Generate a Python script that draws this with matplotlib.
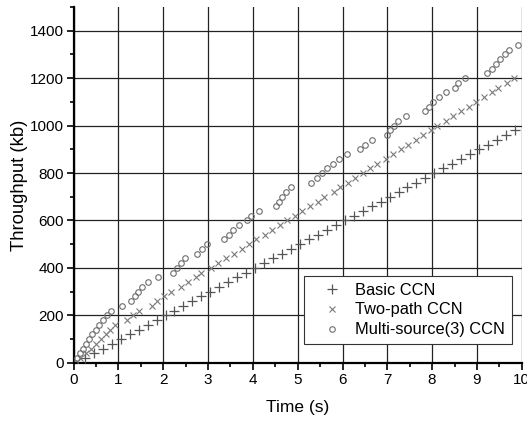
import matplotlib.pyplot as plt
from matplotlib.ticker import MultipleLocator

plt.rcParams['font.family'] = ['Liberation Sans', 'DejaVu Sans']

# Basic CCN (time s, throughput kb)
basic_t = [0.25, 0.45, 0.65, 0.85, 1.05, 1.25, 1.45, 1.65, 1.85, 2.05,
           2.25, 2.45, 2.65, 2.85, 3.05, 3.25, 3.45, 3.65, 3.85, 4.05,
           4.25, 4.45, 4.65, 4.85, 5.05, 5.25, 5.45, 5.65, 5.85, 6.05,
           6.25, 6.45, 6.65, 6.85, 7.05, 7.25, 7.45, 7.65, 7.85, 8.05,
           8.25, 8.45, 8.65, 8.85, 9.05, 9.25, 9.45, 9.65, 9.85]
basic_v = [20, 40, 60, 80, 100, 120, 140, 160, 180, 200,
           220, 240, 260, 280, 300, 320, 340, 360, 380, 400,
           420, 440, 460, 480, 500, 520, 540, 560, 580, 600,
           620, 640, 660, 680, 700, 720, 740, 760, 780, 800,
           820, 840, 860, 880, 900, 920, 940, 960, 980]

# Two-path CCN
two_t = [0.14, 0.27, 0.38, 0.50, 0.61, 0.72, 0.80, 0.92, 1.20, 1.33,
         1.46, 1.74, 1.87, 2.02, 2.18, 2.39, 2.56, 2.73, 2.84, 3.06,
         3.23, 3.41, 3.58, 3.75, 3.92, 4.08, 4.27, 4.42, 4.60, 4.77,
         4.94, 5.10, 5.27, 5.45, 5.59, 5.80, 5.94, 6.12, 6.28, 6.45,
         6.61, 6.78, 6.97, 7.13, 7.31, 7.47, 7.64, 7.80, 7.97, 8.12,
         8.31, 8.47, 8.65, 8.82, 8.98, 9.16, 9.33, 9.48, 9.67, 9.83]
two_v = [20, 40, 60, 80, 100, 120, 140, 160, 180, 200,
         220, 240, 260, 280, 300, 320, 340, 360, 380, 400,
         420, 440, 460, 480, 500, 520, 540, 560, 580, 600,
         620, 640, 660, 680, 700, 720, 740, 760, 780, 800,
         820, 840, 860, 880, 900, 920, 940, 960, 980, 1000,
         1020, 1040, 1060, 1080, 1100, 1120, 1140, 1160, 1180, 1200]

# Multi-source(3) CCN
multi_t = [0.04, 0.08, 0.14, 0.20, 0.27, 0.34, 0.41, 0.49, 0.57, 0.65,
           0.74, 0.84, 1.08, 1.27, 1.37, 1.44, 1.52, 1.67, 1.89, 2.22,
           2.30, 2.40, 2.49, 2.76, 2.87, 2.98, 3.36, 3.47, 3.56, 3.68,
           3.86, 3.96, 4.14, 4.52, 4.59, 4.66, 4.73, 4.86, 5.30, 5.44,
           5.54, 5.65, 5.79, 5.93, 6.09, 6.38, 6.50, 6.65, 6.99, 7.07,
           7.15, 7.23, 7.42, 7.84, 7.94, 8.03, 8.15, 8.31, 8.50, 8.58,
           8.73, 9.23, 9.33, 9.43, 9.52, 9.62, 9.72, 9.92]
multi_v = [0, 20, 40, 60, 80, 100, 120, 140, 160, 180,
           200, 220, 240, 260, 280, 300, 320, 340, 360, 380,
           400, 420, 440, 460, 480, 500, 520, 540, 560, 580,
           600, 620, 640, 660, 680, 700, 720, 740, 760, 780,
           800, 820, 840, 860, 880, 900, 920, 940, 960, 980,
           1000, 1020, 1040, 1060, 1080, 1100, 1120, 1140, 1160, 1180,
           1200, 1220, 1240, 1260, 1280, 1300, 1320, 1340]

fig = plt.figure(figsize=(5.27, 4.22), dpi=100)
ax = fig.add_axes([0.1398, 0.1403, 0.8502, 0.8431])

ax.plot(basic_t, basic_v, linestyle='none', marker='+', markersize=7.5,
        markeredgewidth=0.9, color='#555555', label='Basic CCN', zorder=3)
ax.plot(two_t, two_v, linestyle='none', marker='x', markersize=4.5,
        markeredgewidth=0.8, color='#7a7a7a', label='Two-path CCN', zorder=3)
ax.plot(multi_t, multi_v, linestyle='none', marker='o', markersize=4,
        markerfacecolor='none', markeredgewidth=0.8, color='#6e6e6e',
        label='Multi-source(3) CCN', zorder=3)

ax.set_xlim(0, 10)
ax.set_ylim(0, 1500)
ax.set_xticks(range(0, 11))
ax.set_yticks(range(0, 1401, 200))
ax.xaxis.set_minor_locator(MultipleLocator(0.5))
ax.yaxis.set_minor_locator(MultipleLocator(100))
ax.grid(True, which='major', color='#222222', linewidth=0.9)
ax.set_axisbelow(True)

for s in ['top', 'right']:
    ax.spines[s].set_visible(False)
for s in ['left', 'bottom']:
    ax.spines[s].set_linewidth(1.6)

ax.tick_params(which='major', direction='out', length=5, width=1.2,
               labelsize=11, pad=2)
ax.tick_params(which='minor', direction='out', length=3, width=1.2)

ax.set_xlabel('Time (s)', fontsize=12.5, labelpad=10)
ax.set_ylabel('Throughput (kb)', fontsize=13.3, labelpad=1.5)

leg = ax.legend(loc='lower right', bbox_to_anchor=(0.978, 0.053), fontsize=11.8,
                frameon=True, fancybox=False, framealpha=1, edgecolor='#333333',
                handlelength=2.6, handletextpad=0.15, labelspacing=0.3,
                borderpad=0.4, borderaxespad=0)
leg.get_frame().set_linewidth(0.8)

fig.savefig('out.png', dpi=100)
